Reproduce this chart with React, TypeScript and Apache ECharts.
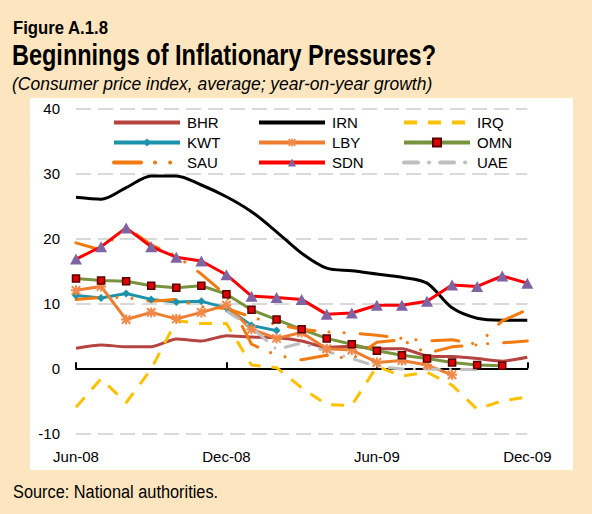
import React, { useEffect, useRef } from "react";
import * as echarts from "echarts";

const months = ["Jun-08","Jul-08","Aug-08","Sep-08","Oct-08","Nov-08","Dec-08","Jan-09","Feb-09","Mar-09","Apr-09","May-09","Jun-09","Jul-09","Aug-09","Sep-09","Oct-09","Nov-09","Dec-09"];
const bhr = [3.1, 3.6, 3.3, 3.3, 4.5, 4.2, 5.0, 4.8, 4.7, 4.2, 3.2, 3.4, 3.0, 3.0, 1.9, 1.8, 1.5, 1.1, 1.7];
const irn = [26.3, 26.0, 27.8, 29.6, 29.6, 28.2, 26.4, 24.1, 21.0, 17.7, 15.4, 15.0, 14.5, 14.0, 13.1, 9.3, 7.7, 7.4, 7.4];
const irq = [-6.0, -1.6, -5.3, -0.1, 7.3, 6.9, 6.9, 0.5, 0.1, -3.0, -5.6, -5.7, 0.3, -1.2, -0.6, -2.6, -6.3, -5.0, -4.4];
const kwt = [11.2, 10.8, 11.5, 10.6, 10.2, 10.3, 9.3, 6.6, 5.8, null, null, null, null, null, null, null, null, null, null];
const lby = [12.0, 12.6, 7.5, 8.6, 7.6, 8.6, 9.7, 6.0, 4.6, 5.5, 3.0, 2.8, 0.9, 1.2, 0.5, -1.0, null, null, null];
const omn = [13.8, 13.5, 13.4, 12.7, 12.4, 12.7, 11.4, 9.0, 7.5, 6.0, 4.6, 3.7, 2.7, 2.0, 1.5, 0.9, 0.5, 0.4, null];
const sau = [19.3, 18.2, 21.7, 19.0, 17.3, 14.5, 11.2, 3.7, 2.0, 1.3, 2.0, 1.4, 4.0, 4.4, 2.3, 3.3, 3.6, 7.3, 9.0];
const sau2 = [10.6, 10.9, 10.9, 10.3, 10.6, 9.5, 9.2, 7.9, 6.7, 6.0, 5.6, 5.4, 5.1, 4.6, 4.2, 4.4, 3.7, 3.9, 4.2];
const sdn = [16.8, 18.7, 21.6, 18.7, 17.1, 16.5, 14.4, 11.1, 10.9, 10.6, 8.3, 8.5, 9.7, 9.7, 10.3, 12.8, 12.6, 14.2, 13.1];
const uae = [null, null, null, null, null, null, 8.8, 6.3, 2.9, 3.9, 2.6, 1.5, 0.3, -0.1, -0.1, -0.2, -0.2, null, null];
const yTicks = { min: -10, max: 40, step: 10 };

const FONT = '"Liberation Sans", Arial, sans-serif';
const ASTERISK = "path://M4,0H6V10H4Z M0,4H10V6H0Z M1.5,0.1L9.9,8.5L8.5,9.9L0.1,1.5Z M8.5,0.1L9.9,1.5L1.5,9.9L0.1,8.5Z";
const SAU_DASH = [27, 14, 0.1, 15, 0.1, 16];
const UAE_DASH = [14, 11, 0.1, 11];

export default function App() {
  const ref = useRef<HTMLDivElement>(null);
  useEffect(() => {
    document.body.style.margin = "0";
    const chart = echarts.init(ref.current!, null, { renderer: "svg" });
    const line = (name: string, data: any[], color: string, extra: any = {}) => ({
      name,
      type: "line",
      data,
      xAxisIndex: 0,
      yAxisIndex: 0,
      symbol: "none",
      connectNulls: false,
      lineStyle: { color, width: 3, ...(extra.lineStyle || {}) },
      itemStyle: { color, ...(extra.itemStyle || {}) },
      ...extra.rest,
    });
    const legendBase = {
      orient: "vertical",
      top: 110,
      itemWidth: 66,
      itemHeight: 10,
      itemGap: 5,
      lineStyle: { width: 4 },
      textStyle: { fontFamily: FONT, fontSize: 15, color: "#000", padding: [0, 0, 0, 2] },
      selectedMode: false,
    };
    const plain = (name: string) => ({ name, itemStyle: { opacity: 0 } });
    const label = (text: string, x: number, y: number, font: string, sx: number) => ({
      type: "text",
      x,
      y,
      scaleX: sx,
      style: { text, font, fill: "#000", verticalAlign: "middle" },
    });
    chart.setOption({
      animation: false,
      backgroundColor: "#FDE6BF",
      graphic: [
        { type: "rect", shape: { x: 30, y: 98, width: 543, height: 372 }, style: { fill: "#fff" }, z: -10 },
        label("Figure A.1.8", 13, 28, `bold 19px ${FONT}`, 0.88),
        label("Beginnings of Inflationary Pressures?", 12, 55, `bold 29px ${FONT}`, 0.81),
        label("(Consumer price index, average; year-on-year growth)", 12, 83, `italic 19px ${FONT}`, 0.92),
        label("Source: National authorities.", 13, 492, `19px ${FONT}`, 0.86),
      ],
      grid: { left: 76, right: 64.7, top: 108.3, bottom: 80.7 },
      legend: [
        { ...legendBase, left: 107, data: [plain("BHR"), "KWT", plain("SAU")] },
        { ...legendBase, left: 252, data: [plain("IRN"), "LBY", "SDN"] },
        { ...legendBase, left: 397, data: [plain("IRQ"), "OMN", plain("UAE")] },
      ],
      xAxis: [
        {
          type: "category",
          data: months,
          boundaryGap: false,
          position: "bottom",
          axisLine: { show: false, onZero: false },
          axisTick: { show: false },
          axisLabel: { interval: 5, fontFamily: FONT, fontSize: 15, color: "#000", margin: 16 },
          splitLine: { show: false },
        },
        {
          type: "category",
          data: months,
          boundaryGap: false,
          position: "bottom",
          axisLine: { show: true, onZero: true, onZeroAxisIndex: 0, lineStyle: { color: "#000", width: 2 } },
          axisTick: { show: true, interval: 5, inside: true, length: 6, lineStyle: { color: "#000", width: 2 } },
          axisLabel: { show: false },
          splitLine: { show: false },
        },
      ],
      yAxis: {
        type: "value",
        min: yTicks.min,
        max: yTicks.max,
        interval: yTicks.step,
        axisLine: { show: false },
        axisTick: { show: false },
        axisLabel: { fontFamily: FONT, fontSize: 15, color: "#000", margin: 16, padding: [6, 0, 0, 0] },
        splitLine: { show: true, lineStyle: { color: "#D9D9D9", width: 2, type: [15, 7] } },
      },
      series: [
        line("BHR", bhr, "#B5433F", { rest: { smooth: 0.2 } }),
        line("IRN", irn, "#000000", { rest: { smooth: 0.3 } }),
        line("IRQ", irq, "#FFC000", { lineStyle: { type: [13, 11] } }),
        line("KWT", kwt, "#1B93AA", { rest: { symbol: "diamond", symbolSize: 8, showSymbol: true } }),
        line("LBY", lby, "#ED7D31", { itemStyle: { color: "#F0894A" }, rest: { symbol: ASTERISK, symbolSize: 10, showSymbol: true } }),
        line("OMN", omn, "#77933C", { itemStyle: { color: "#E00000", borderColor: "#5A0000", borderWidth: 1.5 }, rest: { symbol: "rect", symbolSize: 7, showSymbol: true } }),
        line("SAU2", sau2, "#F27A10", { lineStyle: { type: SAU_DASH, cap: "round" } }),
        line("SAU", sau, "#F27A10", { lineStyle: { type: SAU_DASH, cap: "round" } }),
        line("SDN", sdn, "#FF0000", { itemStyle: { color: "#8064A2" }, rest: { symbol: "triangle", symbolSize: [12, 11], showSymbol: true } }),
        line("UAE", uae, "#BFBFBF", { lineStyle: { type: UAE_DASH, cap: "round" } }),
      ],
    });
    return () => chart.dispose();
  }, []);
  return <div ref={ref} style={{ width: 592, height: 514 }} />;
}
